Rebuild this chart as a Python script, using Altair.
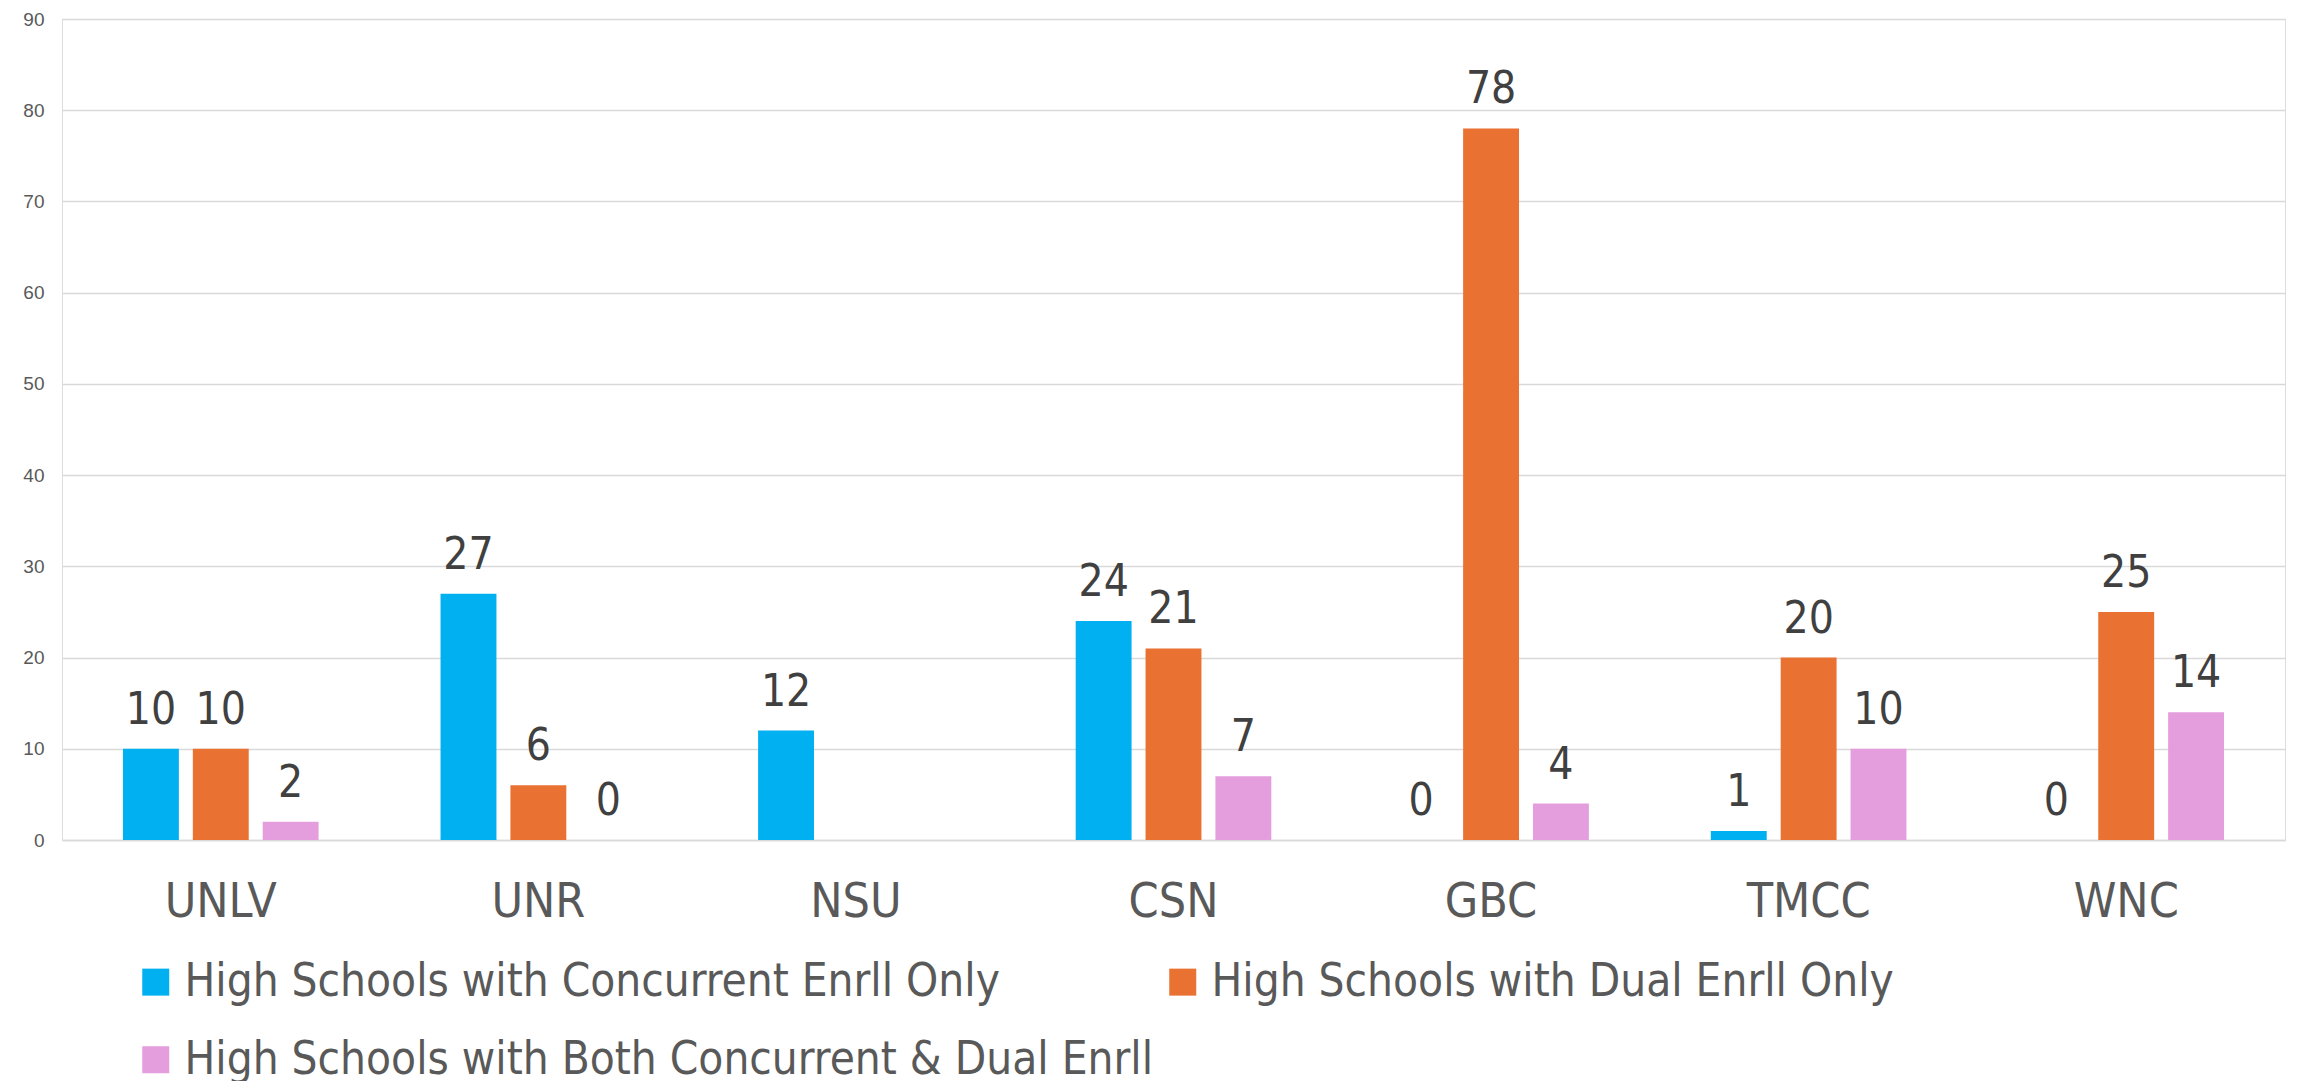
import altair as alt
import pandas as pd

categories = ["UNLV", "UNR", "NSU", "CSN", "GBC", "TMCC", "WNC"]
series_names = [
    "High Schools with Concurrent Enrll Only",
    "High Schools with Dual Enrll Only",
    "High Schools with Both Concurrent & Dual Enrll",
]
concurrent_only = [10, 27, 12, 24, 0, 1, 0]
dual_only = [10, 6, None, 21, 78, 20, 25]
both = [2, 0, None, 7, 4, 10, 14]
colors = ["#00B0F0", "#E97132", "#E59EDD"]

rows = []
for s, vals in zip(series_names, [concurrent_only, dual_only, both]):
    for c, v in zip(categories, vals):
        if v is not None:
            rows.append({"inst": c, "series": s, "value": v})
df = pd.DataFrame(rows)

NARROW = "DejaVu Sans Condensed"

x = alt.X(
    "inst:N",
    sort=categories,
    scale=alt.Scale(paddingInner=0.34, paddingOuter=0.17),
    axis=alt.Axis(
        title=None, labelAngle=0, labelFont=NARROW, labelFontSize=48,
        labelColor="#595959", labelPadding=38, ticks=False,
        domainColor="#D9D9D9", domainWidth=1.5, grid=False,
    ),
)
xoff = alt.XOffset(
    "series:N", sort=series_names,
    scale=alt.Scale(domain=series_names, paddingInner=0.2, paddingOuter=0.1),
)
y = alt.Y(
    "value:Q",
    scale=alt.Scale(domain=[0, 90], nice=False),
    axis=alt.Axis(
        title=None, values=list(range(0, 91, 10)), labelFont="Liberation Sans",
        labelFontSize=19, labelColor="#595959", labelPadding=18, ticks=False,
        domain=False, gridColor="#D9D9D9", gridWidth=1.5,
    ),
)
color = alt.Color(
    "series:N", sort=series_names,
    scale=alt.Scale(domain=series_names, range=colors),
    legend=alt.Legend(
        title=None, orient="none", legendX=71, legendY=940, columns=2,
        direction="horizontal", symbolType="square", symbolSize=729,
        symbolStrokeWidth=0, labelFont=NARROW, labelFontSize=45.5,
        labelColor="#595959", labelOffset=6, rowPadding=31,
        columnPadding=6, labelLimit=2000, padding=0,
    ),
)

bars = alt.Chart(df).mark_bar().encode(x=x, xOffset=xoff, y=y, color=color)
labels = alt.Chart(df).mark_text(
    baseline="alphabetic", dy=-25, font=NARROW, fontSize=44, color="#404040"
).encode(
    x=alt.X("inst:N", sort=categories),
    xOffset=alt.XOffset("series:N", sort=series_names),
    y=alt.Y("value:Q"),
    text=alt.Text("value:Q"),
)

chart = (
    alt.layer(bars, labels)
    .properties(
        width=2223, height=821,
        autosize=alt.AutoSizeParams(type="none"),
        padding={"left": 54, "top": 11, "right": 7, "bottom": 250},
    )
    .configure_view(stroke=None)
    .configure(background="white")
)

chart.save("out.html", embed_options={"renderer": "svg", "actions": False})
